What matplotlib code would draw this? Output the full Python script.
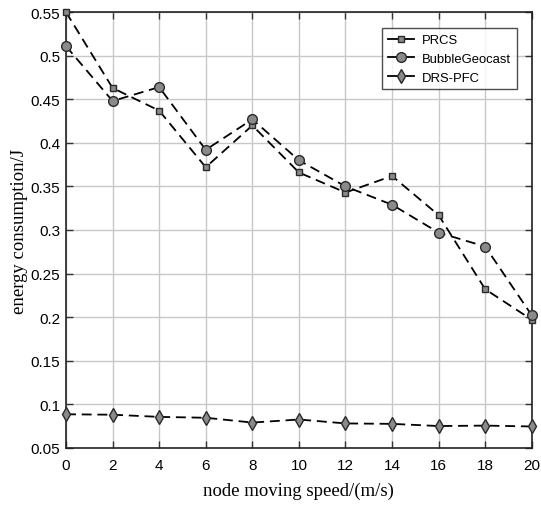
# 節点移動速度ごとのエネルギー消費の比較

import numpy as np
import matplotlib
matplotlib.use("Agg")
import matplotlib.pyplot as plt


# 横軸: 節点の移動速度 [m/s]
speeds = [0, 2, 4, 6, 8, 10, 12, 14, 16, 18, 20]

# 各手法のエネルギー消費 [J]
prcs = [0.550, 0.463, 0.437, 0.372, 0.420, 0.366, 0.343, 0.362, 0.317, 0.232, 0.197]
bubble_geocast = [0.511, 0.448, 0.464, 0.392, 0.427, 0.380, 0.350, 0.329, 0.297, 0.281, 0.202]
drs_pfc = [0.0885, 0.088, 0.0855, 0.0845, 0.079, 0.0825, 0.078, 0.0775, 0.075, 0.0755, 0.0745]

series_names = ["PRCS", "BubbleGeocast", "DRS-PFC"]
x_ticks = list(range(0, 21, 2))
y_ticks = [0.05, 0.1, 0.15, 0.2, 0.25, 0.3, 0.35, 0.4, 0.45, 0.5, 0.55]
y_tick_labels = ["0.05", "0.1", "0.15", "0.2", "0.25", "0.3", "0.35", "0.4", "0.45", "0.5", "0.55"]

LINE_WIDTH = 1.3
DASHES = (5.5, 3.2)
MARKER_FACE = "#8a8a8a"
MARKER_EDGE = "#2a2a2a"


def main():
    plt.rcParams["font.family"] = ["Liberation Sans", "DejaVu Sans"]

    fig = plt.figure(figsize=(5.41, 5.06), dpi=100)
    axis = fig.add_axes([0.122, 0.113, 0.861, 0.861])

    styles = [("s", 5.0), ("o", 7.0), ("d", 7.0)]
    for values, name, (marker, size) in zip([prcs, bubble_geocast, drs_pfc], series_names, styles):
        line, = axis.plot(speeds, values, color="black", linewidth=LINE_WIDTH,
                          linestyle="--", marker=marker, markersize=size,
                          markerfacecolor=MARKER_FACE, markeredgecolor=MARKER_EDGE,
                          markeredgewidth=1.0, label=name, clip_on=False, zorder=3)
        line.set_dashes(DASHES)

    # 軸の範囲と目盛り
    axis.set_xlim(0, 20)
    axis.set_ylim(0.05, 0.55)
    axis.set_xticks(x_ticks)
    axis.set_yticks(y_ticks)
    axis.set_yticklabels(y_tick_labels)
    axis.tick_params(direction="in", top=True, right=True, length=5,
                     width=1.0, labelsize=11, color="#333333")
    axis.tick_params(axis="x", pad=7)
    axis.tick_params(axis="y", pad=4)
    axis.grid(True, color="#c8c8c8", linewidth=1.0)
    for spine in axis.spines.values():
        spine.set_linewidth(1.2)
        spine.set_color("#222222")

    # 軸ラベル
    label_font = {"family": ["Liberation Serif", "DejaVu Serif"], "size": 13.5}
    axis.set_xlabel("node moving speed/(m/s)", fontdict=label_font, labelpad=7)
    axis.set_ylabel("energy consumption/J", fontdict=label_font, labelpad=2)

    # 凡例
    legend = axis.legend(loc="upper right", bbox_to_anchor=(0.968, 0.963),
                         fontsize=9.4, frameon=True, fancybox=False,
                         handlelength=2.0, handletextpad=0.6, borderpad=0.45,
                         labelspacing=0.5, borderaxespad=0.0)
    legend.get_frame().set_edgecolor("#222222")
    legend.get_frame().set_linewidth(1.0)
    for handle in legend.get_lines():
        handle.set_linestyle("-")

    plt.savefig("out.png", dpi=100)


if __name__ == "__main__":
    main()
